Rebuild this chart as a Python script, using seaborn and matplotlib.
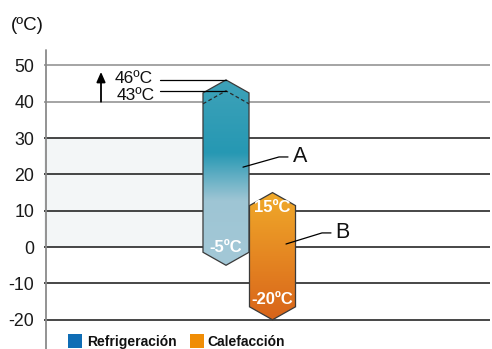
import numpy as np
import pandas as pd
import seaborn as sns
import matplotlib
matplotlib.use("Agg")
import matplotlib.pyplot as plt
from matplotlib.patches import Polygon, Rectangle
from matplotlib import font_manager

# Operating temperature ranges (ºC) for each mode
modes = ["Refrigeración", "Calefacción"]
tags = ["A", "B"]
range_top = [46, 15]
range_bottom = [-5, -20]
extended_top = 43          # dashed limit inside the cooling range
yticks = [50, 40, 30, 20, 10, 0, -10, -20]
legend_colors = ["#0f6db5", "#f08d05"]

sns.set_theme(style="white")
plt.rcParams["font.family"] = ["Liberation Sans", "DejaVu Sans"]

def has_font(name):
    try:
        font_manager.findfont(name, fallback_to_default=False)
        return True
    except Exception:
        return False

narrow = ["Liberation Sans Narrow", "Liberation Sans"] if has_font("Liberation Sans Narrow") else ["Liberation Sans"]
legend_size = 12 if has_font("Liberation Sans Narrow") else 10

W, H = 492, 349
fig = plt.figure(figsize=(W / 100, H / 100), dpi=100)
fig.patch.set_facecolor("white")

# axes span the plotting band in pixels
ax_left, ax_right = 44, 490
ax = fig.add_axes([ax_left / W, 0, (ax_right - ax_left) / W, 1])
px_per_x = 46.5
x0_px = 226
px_per_y = 3.6345
y0_px = 247.1
ax.set_xlim((ax_left - x0_px) / px_per_x, (ax_right - x0_px) / px_per_x)
ax.set_ylim((y0_px - H) / px_per_y, y0_px / px_per_y)
for s in ax.spines.values():
    s.set_visible(False)
ax.set_facecolor("none")
ax.set_xticks([])
ax.set_yticks(yticks)
ax.set_yticklabels([str(t) for t in yticks], fontsize=12.8, color="#1a1a1a")
ax.tick_params(axis="y", length=0, pad=7)

def xpx(p):
    return (p - x0_px) / px_per_x

# light band behind the left part of the chart
half_w = 0.495
ax.add_patch(Rectangle((ax.get_xlim()[0], 0), -half_w - ax.get_xlim()[0], 30,
                       facecolor="#f3f6f7", edgecolor="none", zorder=0))

# horizontal guides
for t in yticks:
    col = "#8c8c8c" if t >= 40 else "#151515"
    ax.axhline(t, color=col, lw=1.1, zorder=1)

# vertical axis line
ax.plot([xpx(45.5)] * 2, [(y0_px - 50) / px_per_y, ax.get_ylim()[0]],
        color="#8a8a8a", lw=1.3, clip_on=False, zorder=2)

corner = 13 / px_per_y
centers = [0.0, 1.0]
grad_A = sns.blend_palette(["#a3c8d7", "#9ec5d4", "#2698b3", "#3ea2b9"], as_cmap=True)
grad_B = sns.blend_palette(["#d8641a", "#e58722", "#f0aa2a"], as_cmap=True)
cmaps = [grad_A, grad_B]

def hexagon(cx, top, bottom):
    return [(cx - half_w, top - corner), (cx, top), (cx + half_w, top - corner),
            (cx + half_w, bottom + corner), (cx, bottom), (cx - half_w, bottom + corner)]

for cx, top, bottom, cmap in zip(centers, range_top, range_bottom, cmaps):
    poly = Polygon(hexagon(cx, top, bottom), closed=True, facecolor="none",
                   edgecolor="#3a3a3a", lw=0.9, zorder=4)
    ax.add_patch(poly)
    if cmap is grad_A:
        vals = np.linspace(0, 1, 256)
        # strongest teal near 26ºC, fading to pale blue below ~13ºC
        span = top - bottom
        v = bottom + vals * span
        pos = np.interp(v, [bottom, 13, 26, top], [0.0, 0.34, 0.67, 1.0])
        grad = pos[::-1].reshape(-1, 1)
    else:
        grad = np.linspace(1, 0, 256).reshape(-1, 1)
    im = ax.imshow(grad, cmap=cmap, vmin=0, vmax=1, aspect="auto",
                   extent=[cx - half_w, cx + half_w, bottom, top], zorder=3,
                   interpolation="bilinear")
    im.set_clip_path(poly)

# dashed inner limit of the cooling range
cA = centers[0]
ax.plot([cA - half_w, cA, cA + half_w],
        [extended_top - corner, extended_top, extended_top - corner],
        color="#2a2a2a", lw=0.9, ls=(0, (3, 2)), zorder=5)

# limit labels with leader lines
ax.plot([xpx(160), cA], [range_top[0], range_top[0]], color="black", lw=0.9, zorder=5)
ax.plot([xpx(160), cA], [extended_top, extended_top], color="black", lw=0.9, zorder=5)
ax.text(xpx(134), range_top[0] + 0.5, f"{range_top[0]}ºC", ha="center", va="center",
        fontsize=12.5, color="#111111")
ax.text(xpx(136), extended_top - 1.4, f"{extended_top}ºC", ha="center", va="center",
        fontsize=12.5, color="#111111")
ax.annotate("", xy=(xpx(101), 48.2), xytext=(xpx(101), 40),
            arrowprops=dict(arrowstyle="-|>,head_length=0.5,head_width=0.22",
                            color="black", lw=1.3, shrinkA=0, shrinkB=0))

# values inside the ranges
bold_kw = dict(ha="center", va="center", color="white", fontweight="bold", fontsize=12, zorder=6)
ax.text(centers[0], range_bottom[0] + 4.8, f"{range_bottom[0]}ºC", **bold_kw)
ax.text(centers[1], range_top[1] - 4.2, f"{range_top[1]}ºC", **bold_kw)
ax.text(centers[1], range_bottom[1] + 5.7, f"{range_bottom[1]}ºC", **bold_kw)

# A / B callouts
ax.plot([xpx(243), xpx(279), xpx(288)], [22.0, 24.8, 24.8], color="black", lw=0.9, zorder=6)
ax.text(xpx(300.5), 24.8, tags[0], ha="center", va="center", fontsize=15.5, color="#111111")
ax.plot([xpx(286), xpx(322), xpx(331)], [0.85, 3.9, 3.9], color="black", lw=0.9, zorder=6)
ax.text(xpx(342), 4.0, tags[1], ha="center", va="center", fontsize=15.5, color="#111111")

# unit label
fig.text(27 / W, 1 - 26 / H, "(ºC)", ha="center", va="center", fontsize=13.5, color="#111111")

# legend
sq = 14
for (x_sq, x_txt), label, col in zip([(68, 87), (190, 207)], modes, legend_colors):
    fig.patches.append(Rectangle((x_sq / W, 1 - 348 / H), sq / W, sq / H,
                                 transform=fig.transFigure, facecolor=col, edgecolor="none"))
    fig.text(x_txt / W, 1 - 342 / H, label, ha="left", va="center",
             fontsize=legend_size, fontweight="bold", family=narrow, color="#111111")

fig.savefig("out.png", dpi=100, facecolor="white")
